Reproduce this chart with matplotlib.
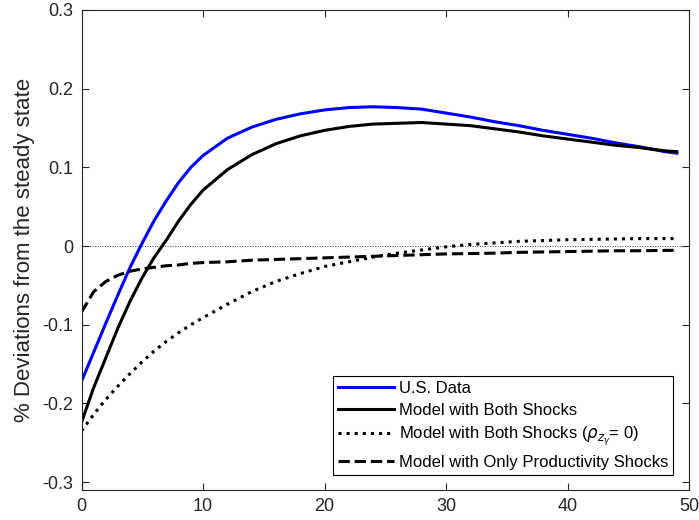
import matplotlib
matplotlib.use("Agg")
import matplotlib.pyplot as plt

# quarters after the shock
x = [0, 1, 2, 3, 4, 5, 6, 7, 8, 9, 10, 12, 14, 16, 18, 20, 22, 24, 26, 28,
     30, 32, 34, 36, 38, 40, 42, 44, 46, 48, 49]

# U.S. Data
datos = [-0.172, -0.135, -0.098, -0.062, -0.027, 0.004, 0.033, 0.058, 0.081, 0.100,
         0.115, 0.137, 0.151, 0.161, 0.168, 0.173, 0.176, 0.177, 0.176, 0.174,
         0.169, 0.164, 0.158, 0.153, 0.147, 0.142, 0.137, 0.131, 0.126, 0.120, 0.118]

# Model with Both Shocks
ambos = [-0.224, -0.180, -0.142, -0.104, -0.070, -0.040, -0.014, 0.008, 0.032, 0.053,
         0.071, 0.097, 0.116, 0.130, 0.140, 0.147, 0.152, 0.155, 0.156, 0.157,
         0.155, 0.153, 0.149, 0.145, 0.140, 0.136, 0.132, 0.128, 0.125, 0.121, 0.120]

# Model with Both Shocks (rho = 0)
ambos_rho0 = [-0.235, -0.214, -0.195, -0.178, -0.162, -0.147, -0.133, -0.121, -0.110, -0.100,
              -0.091, -0.074, -0.058, -0.045, -0.035, -0.026, -0.020, -0.014, -0.009, -0.005,
              -0.001, 0.002, 0.004, 0.006, 0.007, 0.008, 0.0085, 0.009, 0.0095, 0.0095, 0.0095]

# Model with Only Productivity Shocks
solo_prod = [-0.084, -0.058, -0.045, -0.037, -0.032, -0.029, -0.027, -0.025, -0.024, -0.022,
             -0.021, -0.020, -0.018, -0.017, -0.016, -0.015, -0.014, -0.013, -0.012, -0.011,
             -0.010, -0.0095, -0.009, -0.008, -0.0075, -0.007, -0.0065, -0.006, -0.006, -0.0055, -0.0055]

etiquetas = ['U.S. Data',
             'Model with Both Shocks',
             r'Model with Both Shocks ($\rho_{z_\gamma}$= 0)',
             'Model with Only Productivity Shocks']

plt.rcParams['font.family'] = ['Liberation Sans', 'DejaVu Sans']
gris = '#262626'

fig = plt.figure(figsize=(6.99, 5.2), dpi=100)
ax = fig.add_axes([0.1166, 0.0577, 0.8691, 0.9231])

ax.axhline(0, color='black', lw=0.6, linestyle=(0, (1, 2)))
ax.plot(x, datos, color='#0000ff', lw=2.2, label=etiquetas[0])
ax.plot(x, ambos, color='black', lw=2.2, label=etiquetas[1])
ax.plot(x, ambos_rho0, color='black', lw=2.2, linestyle=':', label=etiquetas[2])
ax.plot(x, solo_prod, color='black', lw=2.2, linestyle='--', label=etiquetas[3])

ax.set_xlim(0, 50)
ax.set_ylim(-0.31, 0.3)
ax.set_xticks([0, 10, 20, 30, 40, 50])
ax.set_yticks([-0.3, -0.2, -0.1, 0, 0.1, 0.2, 0.3])
ax.set_yticklabels(['-0.3', '-0.2', '-0.1', '0', '0.1', '0.2', '0.3'])
ax.tick_params(direction='in', length=5, width=0.8, top=True, right=True,
               labelsize=13, colors=gris, labelcolor=gris)
ax.tick_params(axis='x', pad=6)
ax.tick_params(axis='y', pad=6)
for s in ax.spines.values():
    s.set_color(gris)
    s.set_linewidth(0.8)

ax.set_ylabel('% Deviations from the steady state', fontsize=16, color=gris, labelpad=5)

leg = ax.legend(loc='lower right', bbox_to_anchor=(0.974, 0.031), fontsize=12,
                handlelength=3.35, labelspacing=0.42, handletextpad=0.3,
                borderpad=0.3, borderaxespad=0, fancybox=False, framealpha=1)
leg.get_frame().set_edgecolor('black')
leg.get_frame().set_linewidth(0.8)

fig.savefig('out.png', dpi=100)
